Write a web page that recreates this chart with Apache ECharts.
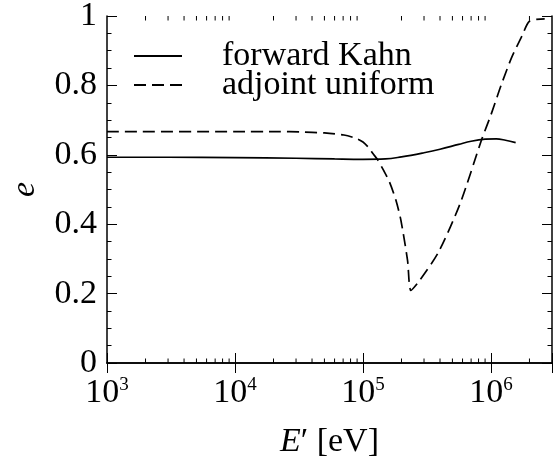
<!DOCTYPE html>
<html>
<head>
<meta charset="utf-8">
<script src="https://cdn.jsdelivr.net/npm/echarts@6/dist/echarts.min.js"></script>
<style>
html,body{margin:0;padding:0;background:#fff;}
#chart{width:560px;height:463px;}
</style>
</head>
<body>
<div id="chart"></div>
<script>
// ---- data ----
const seriesNames = ['forward Kahn', 'adjoint uniform'];
const forwardE = [1e3, 3e3, 1e4, 3e4, 6e4, 1e5, 1.5e5, 2e5, 3e5, 4e5, 5.6e5, 7e5, 9e5, 1.1e6, 1.3e6, 1.56e6];
const forwardVal = [0.593, 0.593, 0.592, 0.590, 0.588, 0.587, 0.588, 0.594, 0.606, 0.616, 0.630, 0.639, 0.645, 0.646, 0.642, 0.635];
const adjointE = [1e3, 1e4, 2.2e4, 3.2e4, 5.0e4, 7.1e4, 8.9e4, 1.0e5, 1.1e5, 1.2e5, 1.30e5, 1.45e5, 1.61e5, 1.81e5, 1.98e5, 2.23e5, 2.37e5, 2.75e5, 3.9e5, 5.75e5, 8.5e5, 1.0e6, 1.2e6, 1.45e6, 1.76e6, 2.0e6, 2.63e6];
const adjointVal = [0.667, 0.667, 0.667, 0.666, 0.663, 0.657, 0.647, 0.637, 0.622, 0.603, 0.586, 0.555, 0.522, 0.469, 0.411, 0.296, 0.209, 0.236, 0.320, 0.460, 0.646, 0.715, 0.800, 0.880, 0.945, 0.985, 0.992];
const xMin = 1e3, xMax = 3e6;
const yMin = 0, yMax = 1, yInterval = 0.2;
const xMinorTicks = [];
[1e3, 1e4, 1e5, 1e6].forEach(function (d) {
  for (let k = 2; k <= 9; k++) { if (k * d < xMax) xMinorTicks.push(k * d); }
});

const FONT = '"Liberation Serif", "Times New Roman", serif';
const FS = 34;
const chart = echarts.init(document.getElementById('chart'), null, {renderer: 'canvas'});

function pairs(xs, ys) { return xs.map(function (x, i) { return [x, ys[i]]; }); }

const axisLine = {show: true, lineStyle: {color: '#000', width: 1.5}};
const option = {
  animation: false,
  backgroundColor: '#fff',
  grid: {left: 107, right: 8, top: 16, bottom: 100, containLabel: false, outerBoundsMode: 'none'},
  legend: {
    data: seriesNames,
    orient: 'vertical',
    left: 133, top: 39,
    padding: 0,
    itemWidth: 48, itemHeight: 14, itemGap: -5,
    itemStyle: {opacity: 0},
    textStyle: {fontFamily: FONT, fontSize: FS, color: '#000', lineHeight: 30, padding: [0, 0, 0, 35]}
  },
  xAxis: [{
    type: 'log', logBase: 10, min: xMin, max: xMax, position: 'bottom',
    axisLine: axisLine,
    axisTick: {show: true, inside: true, length: 10, lineStyle: {color: '#000', width: 1}},
    splitLine: {show: false},
    axisLabel: {
      margin: 13,
      fontFamily: FONT, color: '#000',
      formatter: function (v) {
        const p = Math.log10(v);
        if (Math.abs(p - Math.round(p)) > 1e-6) return '';
        return '{b|10}{s|' + Math.round(p) + '}';
      },
      rich: {
        b: {fontFamily: FONT, fontSize: FS, color: '#000'},
        s: {fontFamily: FONT, fontSize: 19, color: '#000', padding: [0, 0, 16, 0]}
      }
    },
    name: '{i|E}′ [eV]',
    nameLocation: 'middle', nameGap: 62,
    nameTextStyle: {fontFamily: FONT, fontSize: FS, color: '#000',
      rich: {i: {fontFamily: FONT, fontSize: FS, fontStyle: 'italic', color: '#000'}}}
  }, {
    type: 'log', logBase: 10, min: xMin, max: xMax, position: 'top',
    axisLine: axisLine,
    axisTick: {show: true, inside: true, length: 10, lineStyle: {color: '#000', width: 1}},
    splitLine: {show: false},
    axisLabel: {show: false}
  }],
  yAxis: [{
    type: 'value', min: yMin, max: yMax, interval: yInterval, position: 'left',
    axisLine: axisLine,
    axisTick: {show: true, inside: true, length: 10, lineStyle: {color: '#000', width: 1}},
    minorTick: {show: true, splitNumber: 4, length: 4.5, lineStyle: {color: '#000', width: 1}},
    splitLine: {show: false},
    axisLabel: {margin: 10, fontFamily: FONT, fontSize: FS, color: '#000'},
    name: 'e', nameLocation: 'middle', nameGap: 65, nameRotate: 90,
    nameTextStyle: {fontFamily: FONT, fontSize: FS, fontStyle: 'italic', color: '#000'}
  }, {
    type: 'value', min: yMin, max: yMax, interval: yInterval, position: 'right',
    axisLine: axisLine,
    axisTick: {show: true, inside: true, length: 10, lineStyle: {color: '#000', width: 1}},
    minorTick: {show: true, splitNumber: 4, length: 4.5, lineStyle: {color: '#000', width: 1}},
    splitLine: {show: false},
    axisLabel: {show: false}
  }],
  series: [{
    name: seriesNames[0], type: 'line', xAxisIndex: 0, yAxisIndex: 0,
    data: pairs(forwardE, forwardVal),
    symbol: 'none', smooth: 0.4,
    lineStyle: {color: '#000', width: 1.7, type: 'solid'},
    itemStyle: {color: '#000'}
  }, {
    name: seriesNames[1], type: 'line', xAxisIndex: 0, yAxisIndex: 0,
    data: pairs(adjointE, adjointVal),
    symbol: 'none', smooth: 0.25,
    lineStyle: {color: '#000', width: 1.7, type: [12, 6]},
    itemStyle: {color: '#000'}
  }, {
    name: 'minorTicks', type: 'custom', xAxisIndex: 0, yAxisIndex: 0,
    data: xMinorTicks.map(function (v) { return [v]; }),
    clip: false, silent: true,
    renderItem: function (params, api) {
      const v = api.value(0);
      const pb = api.coord([v, yMin]);
      const pt = api.coord([v, yMax]);
      const st = {stroke: '#000', lineWidth: 1};
      return {type: 'group', children: [
        {type: 'line', shape: {x1: pb[0], y1: pb[1], x2: pb[0], y2: pb[1] - 4.5}, style: st},
        {type: 'line', shape: {x1: pt[0], y1: pt[1], x2: pt[0], y2: pt[1] + 4.5}, style: st}
      ]};
    }
  }]
};
chart.setOption(option);
</script>
</body>
</html>
